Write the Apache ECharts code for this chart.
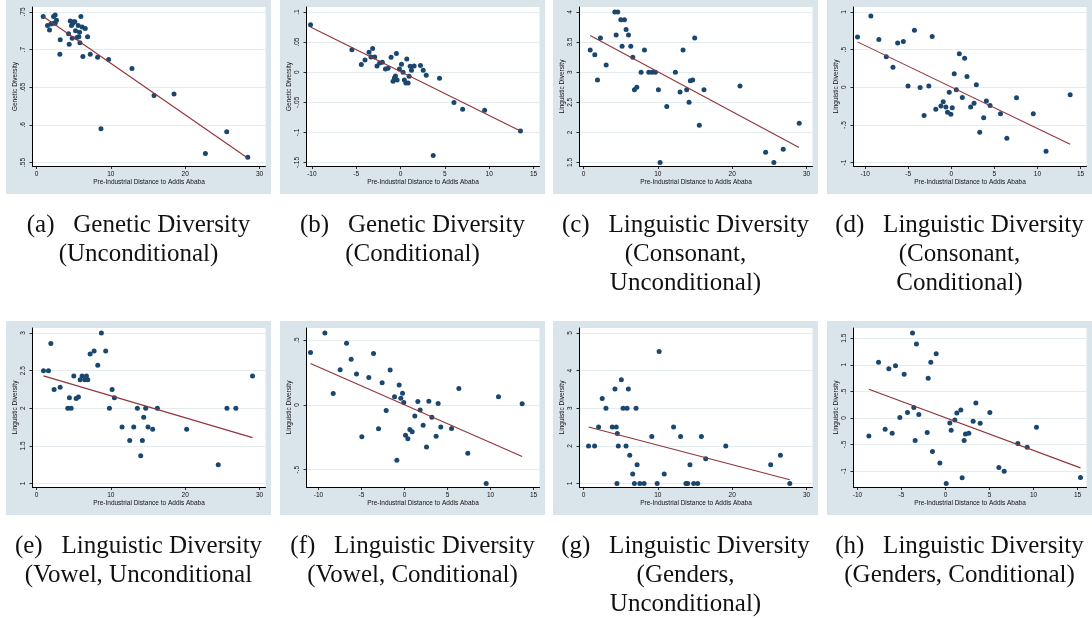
<!DOCTYPE html>
<html>
<head>
<meta charset="utf-8">
<script src="https://cdn.jsdelivr.net/npm/echarts@6/dist/echarts.min.js"></script>
<style>
  html, body { margin: 0; padding: 0; background: #fff; }
  #main { width: 1092px; height: 618px; }
</style>
</head>
<body>
<div id="main"></div>
<script>
// tick labels
const xTicksDist = [0, 10, 20, 30];
const xTicksResid = [-10, -5, 0, 5, 10, 15];
const yTicksA = [0.55, 0.6, 0.65, 0.7, 0.75];
const yTicksB = [-0.15, -0.1, -0.05, 0, 0.05, 0.1];
const yTicksC = [1.5, 2, 2.5, 3, 3.5, 4];
const yTicksD = [-1, -0.5, 0, 0.5, 1];
const yTicksE = [1, 1.5, 2, 2.5, 3];
const yTicksF = [-0.5, 0, 0.5];
const yTicksG = [1, 2, 3, 4, 5];
const yTicksH = [-1, -0.5, 0, 0.5, 1, 1.5];

// (a) genetic diversity, unconditional  [distance, diversity]
const ptsA = [[0.90,.744],[1.48,.732],[1.75,.726],[1.93,.734],[2.29,.735],[2.29,.744],[2.51,.746],[2.51,.735],
  [2.69,.739],[3.19,.713],[3.14,.694],[4.31,.721],[4.40,.707],[4.54,.738],[4.71,.732],[4.89,.735],[4.80,.715],
  [4.98,.737],[5.16,.737],[5.25,.725],[5.43,.716],[5.61,.732],[5.70,.717],[5.79,.723],[5.84,.709],[5.97,.744],
  [6.15,.730],[6.24,.691],[6.56,.728],[6.87,.717],[7.23,.694],[8.22,.690],[8.67,.595],[9.70,.687],[12.84,.675],
  [15.81,.639],[18.50,.641],[22.72,.562],[25.59,.591],[28.42,.557]];
const fitA = [[0.9,.744],[28.4,.556]];

// (b) genetic diversity, conditional
const ptsB = [[-10.15,.079],[-5.48,.0375],[-4.42,.0126],[-4.0,.0204],[-3.55,.0331],[-3.33,.0253],[-3.14,.0392],
  [-2.91,.0253],[-2.65,.0104],[-2.35,.0154],[-2.05,.0165],[-1.70,.0054],[-1.40,.0065],[-1.06,.0248],[-0.84,-.015],
  [-0.69,-.0095],[-0.57,-.0062],[-0.46,.0309],[-0.38,-.0128],[-0.12,.0054],[0.11,.0132],[0.29,-.0001],[0.44,-.0128],
  [0.60,-.0178],[0.71,.022],[0.86,-.0178],[0.97,-.0067],[1.09,.0098],[1.24,.0032],[1.54,.0104],[2.25,.011],
  [2.56,.0032],[2.90,-.0051],[4.40,-.0101],[6.03,-.0504],[7.01,-.0615],[9.49,-.0632],[13.53,-.0975],[3.69,-.1384]];
const fitB = [[-10.15,.075],[13.53,-.0975]];

// (c) consonants, unconditional
const ptsC = [[0.9,3.37],[1.52,3.29],[1.88,2.87],[2.28,3.57],[3.05,3.12],[4.21,4.0],[4.61,4.0],[4.39,3.62],
  [5.02,3.87],[5.19,3.43],[5.51,3.87],[5.73,3.71],[6.05,3.62],[6.36,3.43],[6.63,3.25],[6.85,2.71],[7.17,2.75],
  [7.75,3.0],[8.20,3.37],[8.78,3.0],[9.23,3.0],[9.67,3.0],[10.08,2.71],[10.30,1.5],[11.20,2.43],[12.36,3.0],
  [12.99,2.67],[13.39,3.37],[13.88,2.71],[14.20,2.5],[14.37,2.86],[14.69,2.87],[14.96,3.57],[15.58,2.12],
  [16.21,2.71],[21.05,2.77],[24.50,1.67],[25.61,1.5],[26.87,1.72],[29.02,2.15]];
const fitC = [[0.9,3.61],[29.0,1.75]];

// (d) consonants, conditional
const ptsD = [[-10.89,.669],[-9.34,.947],[-8.41,.634],[-7.55,.404],[-6.77,.267],[-6.23,.589],[-5.57,.607],
  [-5.02,.015],[-4.28,.757],[-3.62,-.002],[-3.16,-.377],[-2.61,.015],[-2.22,.673],[-1.80,-.294],[-1.21,-.249],
  [-0.94,-.192],[-0.63,-.263],[-0.44,-.333],[-0.24,-.068],[-0.05,-.360],[0.11,-.272],[0.34,.179],[0.58,-.033],
  [0.93,.444],[1.28,-.135],[1.55,.386],[1.82,.143],[2.25,-.263],[2.64,-.214],[2.91,.033],[3.30,-.598],[3.76,-.404],
  [4.07,-.183],[4.50,-.241],[5.71,-.351],[6.45,-.678],[7.57,-.139],[9.52,-.351],[11.0,-.850],[13.80,-.099]];
const fitD = [[-10.89,.603],[13.8,-.757]];

// (e) vowels, unconditional
const ptsE = [[0.94,2.50],[1.61,2.50],[1.93,2.86],[2.37,2.25],[3.18,2.28],[4.21,2.0],[4.43,2.14],[4.66,2.0],
  [5.02,2.43],[5.33,2.13],[5.64,2.15],[5.87,2.38],[6.13,2.43],[6.49,2.38],[6.72,2.43],[6.90,2.38],[7.21,2.72],
  [7.75,2.76],[8.24,2.57],[8.73,3.0],[9.31,2.76],[9.81,2.0],[10.17,2.25],[10.48,2.14],[11.51,1.75],[12.54,1.57],
  [13.08,1.75],[13.57,2.0],[14.02,1.37],[14.24,1.57],[14.42,1.88],[14.69,2.0],[15.0,1.75],[15.63,1.72],
  [16.26,2.0],[20.2,1.72],[24.45,1.25],[25.62,2.0],[26.82,2.0],[29.06,2.43]];
const fitE = [[0.94,2.43],[29.06,1.61]];

// (f) vowels, conditional
const ptsF = [[-10.93,.404],[-9.26,.555],[-8.29,.087],[-7.48,.272],[-6.74,.476],[-6.20,.352],[-5.58,.239],
  [-4.96,-.247],[-4.15,.211],[-3.60,.396],[-3.02,-.185],[-2.60,.170],[-2.13,-.044],[-1.67,.270],[-1.16,.062],
  [-0.89,-.427],[-0.62,.154],[-0.43,.051],[-0.23,.090],[-0.08,.018],[0.12,-.234],[0.39,-.262],[0.62,-.190],
  [0.89,-.208],[1.20,-.085],[1.55,.026],[1.82,-.039],[2.17,-.157],[2.56,-.326],[2.83,.028],[3.18,-.095],
  [3.68,-.242],[3.91,.010],[4.22,-.170],[5.47,-.183],[6.32,.126],[7.36,-.373],[9.50,-.607],[10.93,.062],[13.68,.008]];
const fitF = [[-10.93,.319],[13.68,-.398]];

// (g) genders, unconditional
const ptsG = [[0.68,2.0],[1.49,2.0],[2.03,2.5],[2.52,3.26],[3.02,3.0],[3.87,2.5],[4.23,3.51],[4.41,2.5],[4.50,1.0],
  [4.55,2.33],[4.68,2.0],[5.09,3.76],[5.32,3.0],[5.72,2.0],[5.86,3.0],[6.04,3.51],[6.22,1.75],[6.62,1.25],[6.85,1.0],
  [7.07,3.0],[7.21,1.5],[7.57,1.0],[8.15,1.0],[9.19,2.25],[9.91,1.0],[10.18,4.51],[10.86,1.25],[12.12,2.5],
  [13.06,2.25],[13.78,1.0],[14.01,1.0],[14.32,1.5],[14.82,1.0],[15.36,1.0],[15.86,2.25],[16.44,1.66],[19.14,2.0],
  [25.18,1.5],[26.49,1.75],[27.75,1.0]];
const fitG = [[0.68,2.5],[27.75,1.10]];

// (h) genders, conditional
const ptsH = [[-8.71,-.338],[-7.61,1.046],[-6.86,-.213],[-6.44,.927],[-6.06,-.288],[-5.68,.984],[-5.19,.006],
  [-4.70,.821],[-4.32,.100],[-3.75,1.598],[-3.60,.194],[-3.45,-.426],[-3.30,1.391],[-3.03,.063],[-2.08,-.276],
  [-1.97,.746],[-1.67,1.046],[-1.48,-.633],[-1.06,1.209],[-0.64,-.846],[0.08,-1.234],[0.49,-.094],[0.64,-.232],
  [1.06,-.038],[1.29,.094],[1.74,.150],[1.89,-1.128],[2.12,-.426],[2.27,-.301],[2.65,-.288],[3.14,-.063],
  [3.45,.282],[3.94,-.100],[5.04,.100],[6.06,-.934],[6.67,-1.003],[8.22,-.482],[9.28,-.551],[10.34,-.175],[15.34,-1.122]];
const fitH = [[-8.71,.539],[15.34,-.94]];

const panels = [
  { pts: ptsA, fit: fitA, xt: xTicksDist,  yt: yTicksA, ytitle: 'Genetic Diversity',    cap: ['(a)   Genetic Diversity', '(Unconditional)'] },
  { pts: ptsB, fit: fitB, xt: xTicksResid, yt: yTicksB, ytitle: 'Genetic Diversity',    cap: ['(b)   Genetic Diversity', '(Conditional)'] },
  { pts: ptsC, fit: fitC, xt: xTicksDist,  yt: yTicksC, ytitle: 'Linguistic Diversity', cap: ['(c)   Linguistic Diversity', '(Consonant,', 'Unconditional)'] },
  { pts: ptsD, fit: fitD, xt: xTicksResid, yt: yTicksD, ytitle: 'Linguistic Diversity', cap: ['(d)   Linguistic Diversity', '(Consonant,', 'Conditional)'] },
  { pts: ptsE, fit: fitE, xt: xTicksDist,  yt: yTicksE, ytitle: 'Linguistic Diversity', cap: ['(e)   Linguistic Diversity', '(Vowel, Unconditional'] },
  { pts: ptsF, fit: fitF, xt: xTicksResid, yt: yTicksF, ytitle: 'Linguistic Diversity', cap: ['(f)   Linguistic Diversity', '(Vowel, Conditional)'] },
  { pts: ptsG, fit: fitG, xt: xTicksDist,  yt: yTicksG, ytitle: 'Linguistic Diversity', cap: ['(g)   Linguistic Diversity', '(Genders,', 'Unconditional)'] },
  { pts: ptsH, fit: fitH, xt: xTicksResid, yt: yTicksH, ytitle: 'Linguistic Diversity', cap: ['(h)   Linguistic Diversity', '(Genders, Conditional)'] }
];

// layout (stata graph region / plot region)
const panelLeft = [6, 280, 553, 827];
const rowTop = [0, 321];
const PW = 265, PH = 194;
const GX = 26.5, GY = 7, GW = 233, GH = 159;
const capY = [225, 254, 283];

const axisFont = 'Liberation Sans, Arial, sans-serif';
const navy = '#1a476f', maroon = '#90353b';

// stata pads the plot region a few pixels past the data / tick range
function span(vals, ticks, size, padLo, padHi) {
  const lo0 = Math.min(...vals, ...ticks), hi0 = Math.max(...vals, ...ticks);
  const k = (hi0 - lo0) / (size - padLo - padHi);
  return [lo0 - padLo * k, hi0 + padHi * k];
}

function stataNum(v) {
  const s = String(+(+v).toFixed(4));
  return s.replace(/^(-?)0\./, '$1.');
}

const grid = [], xAxis = [], yAxis = [], series = [], graphic = [];

panels.forEach(function (p, i) {
  const left = panelLeft[i % 4];
  const top = rowTop[Math.floor(i / 4)];

  graphic.push({
    type: 'rect', z: -100, silent: true,
    shape: { x: left, y: top, width: PW, height: PH },
    style: { fill: '#d9e4eb' }
  });
  p.cap.forEach(function (line, j) {
    graphic.push({
      type: 'text', silent: true,
      x: left + PW / 2, y: top + capY[j],
      style: {
        text: line, fill: '#111',
        font: '25px "Liberation Serif", "DejaVu Serif", serif',
        align: 'center', verticalAlign: 'middle',
        textAlign: 'center', textVerticalAlign: 'middle'
      }
    });
  });

  grid.push({
    left: left + GX, top: top + GY, width: GW, height: GH,
    show: true, backgroundColor: '#ffffff', borderWidth: 0
  });

  const xr = span(p.pts.map(d => d[0]), p.xt, GW, 4, 6);
  const yr = span(p.pts.map(d => d[1]), p.yt, GH, 3.5, 5);

  xAxis.push({
    gridIndex: i, type: 'value', min: xr[0], max: xr[1],
    name: 'Pre-Industrial Distance to Addis Ababa',
    nameLocation: 'middle', nameGap: 13,
    nameTextStyle: { fontSize: 6.5, fontFamily: axisFont, color: '#111' },
    axisLine: { onZero: false, lineStyle: { color: '#000', width: 1 } },
    axisTick: { customValues: p.xt, length: 3, lineStyle: { color: '#000', width: 0.8 } },
    axisLabel: { customValues: p.xt, margin: 5, fontSize: 6.5, fontFamily: axisFont, color: '#111', formatter: stataNum },
    splitLine: { show: false }
  });
  yAxis.push({
    gridIndex: i, type: 'value', min: yr[0], max: yr[1],
    name: p.ytitle, nameLocation: 'middle', nameGap: 13, nameRotate: 90,
    nameTextStyle: { fontSize: 6.5, fontFamily: axisFont, color: '#111' },
    axisLine: { onZero: false, lineStyle: { color: '#000', width: 1 } },
    axisTick: { customValues: p.yt, length: 3, lineStyle: { color: '#000', width: 0.8 } },
    axisLabel: { customValues: p.yt, margin: 6, rotate: 90, fontSize: 6.5, fontFamily: axisFont, color: '#111', formatter: stataNum },
    splitLine: { show: true, lineStyle: { color: '#e4ecef', width: 1 } }
  });

  series.push({
    type: 'scatter', xAxisIndex: i, yAxisIndex: i, data: p.pts,
    symbolSize: 5, itemStyle: { color: navy, opacity: 1 }, z: 2
  });
  series.push({
    type: 'line', xAxisIndex: i, yAxisIndex: i, data: p.fit,
    symbol: 'none', showSymbol: false,
    lineStyle: { color: maroon, width: 1.1 }, z: 3
  });
});

const chart = echarts.init(document.getElementById('main'), null, { renderer: 'canvas' });
chart.setOption({
  animation: false,
  backgroundColor: '#ffffff',
  grid: grid,
  xAxis: xAxis,
  yAxis: yAxis,
  series: series,
  graphic: graphic
});
</script>
</body>
</html>
